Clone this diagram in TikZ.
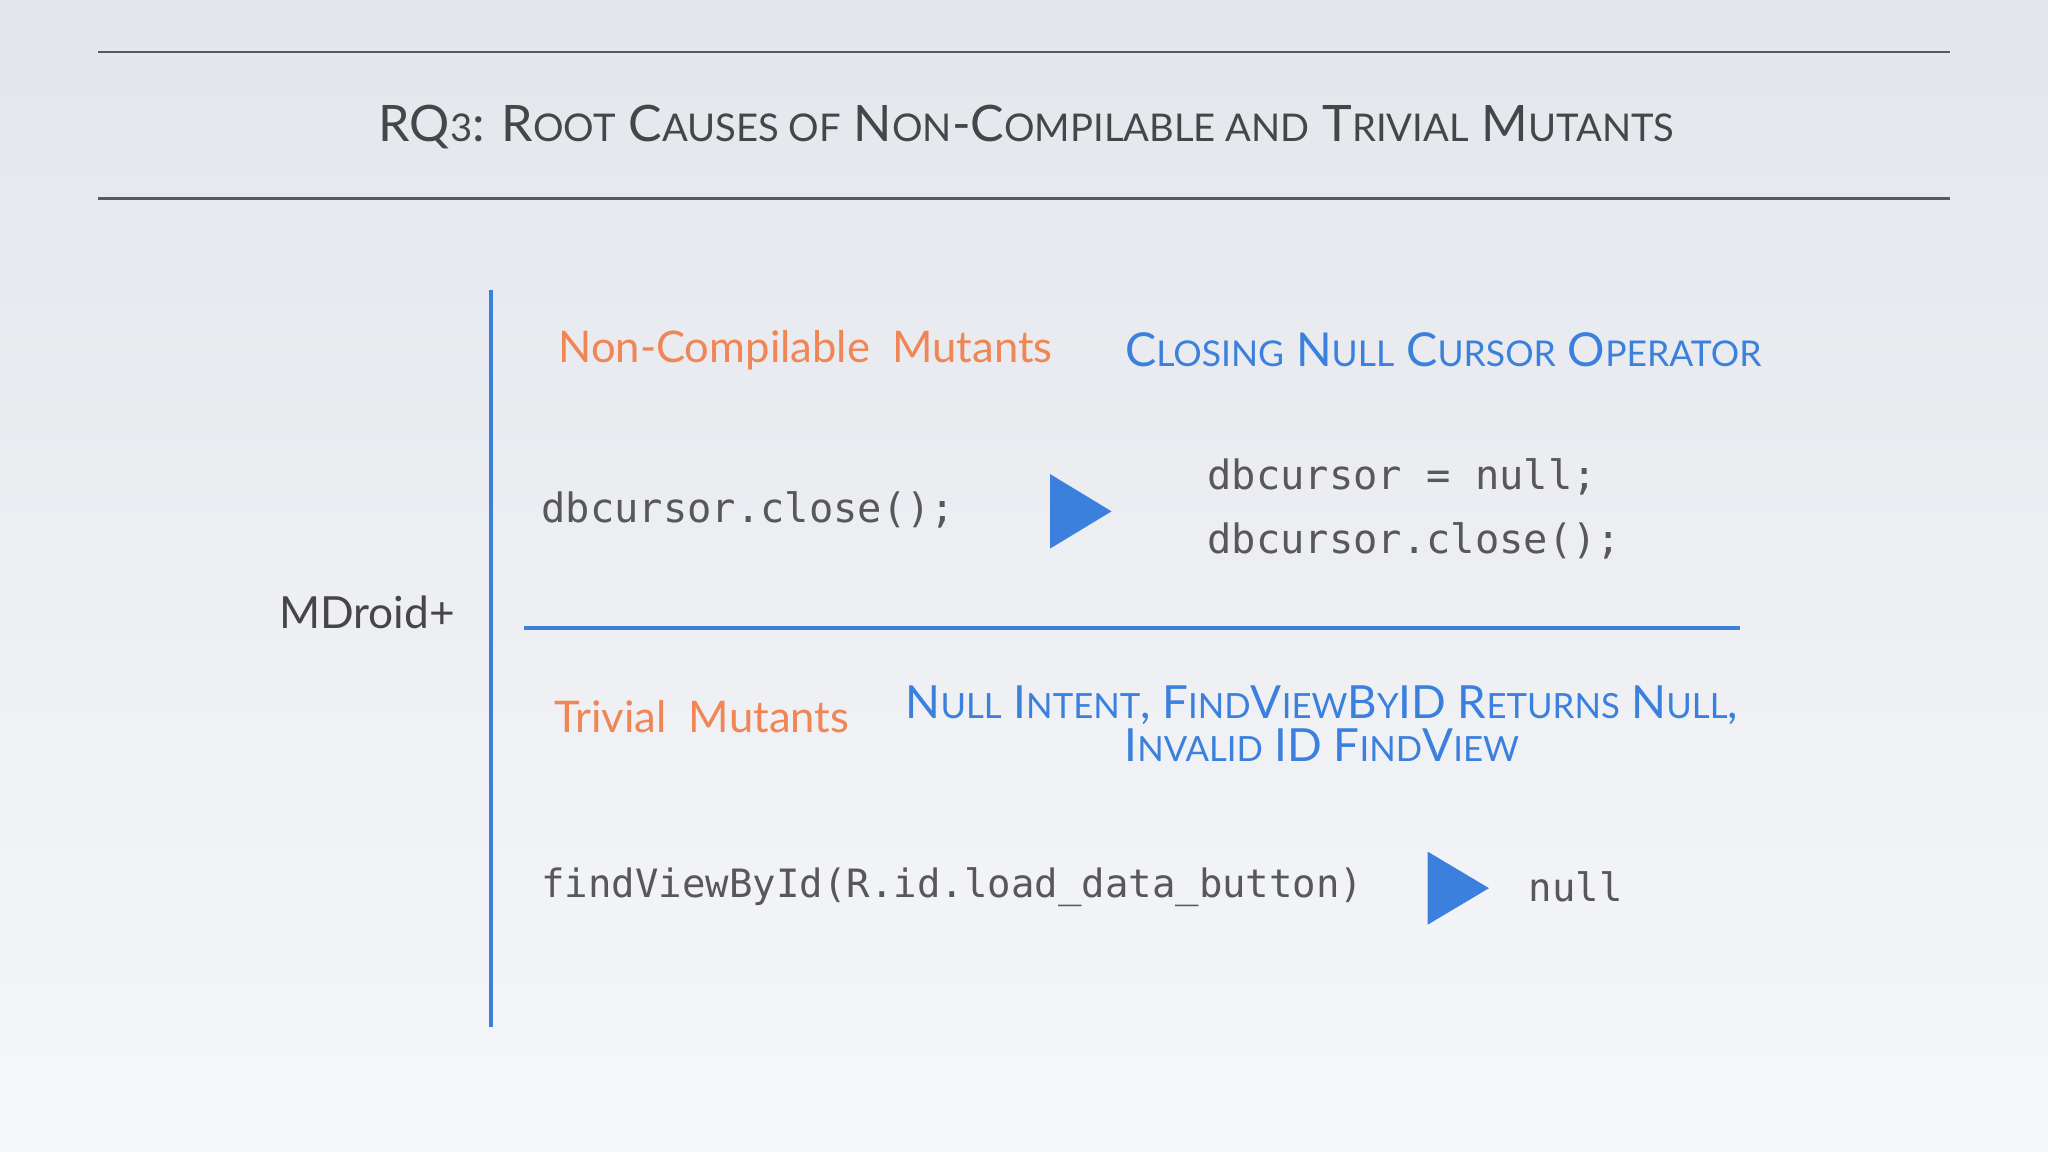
\documentclass[tikz,border=0pt]{standalone}
\usepackage{fontspec}
\setmainfont{Lato}
\setmonofont{DejaVu Sans Mono}
\usepackage{graphicx}
\definecolor{bluec}{RGB}{58,128,220}
\definecolor{orc}{RGB}{240,134,86}
\definecolor{grc}{RGB}{70,70,72}
\newcommand\ssc[1]{\scalebox{0.76}{\MakeUppercase{#1}}}
\tikzset{
  ttl/.style={text=grc,font=\fontsize{14.3}{16}\selectfont,inner sep=0pt},
  hdr/.style={text=orc,font=\fontsize{12.4}{15}\selectfont,inner sep=0pt,anchor=west},
  bhd/.style={text=bluec,font=\fontsize{13.3}{14}\selectfont,inner sep=0pt,align=center},
  code/.style={text=grc!90,font=\ttfamily\fontsize{11.5}{14}\selectfont,inner sep=0pt,anchor=west},
  tri/.style={fill=bluec,draw=none},
  bl/.style={draw=bluec,line width=1.2pt},
  gl/.style={draw=grc!90,line width=0.6pt}
}
\begin{document}
\begin{tikzpicture}[x=0.013061cm,y=-0.013061cm]
\shade[top color={rgb,255:red,227;green,230;blue,235},bottom color={rgb,255:red,246;green,247;blue,250}] (0,0) rectangle (1568,882);
\useasboundingbox (0,0) rectangle (1568,882);
\coordinate (l1a) at (75,40); \coordinate (l1b) at (1493,40);
\coordinate (l2a) at (75,152); \coordinate (l2b) at (1493,152);
\draw[gl] (l1a) -- (l1b);
\draw[gl] (l2a) -- (l2b);
\node[ttl] (title) at (786,97) {RQ\ssc{3}: R\ssc{oot} C\ssc{auses of} N\ssc{on}-C\ssc{ompilable and} T\ssc{rivial} M\ssc{utants}};
\coordinate (va) at (376,222); \coordinate (vb) at (376,786);
\draw[bl] (va) -- (vb);
\coordinate (ha) at (401,481); \coordinate (hb) at (1332,481);
\draw[bl] (ha) -- (hb);
\node[text=grc,font=\fontsize{12.6}{16}\selectfont,inner sep=0pt] (md) at (281,469) {MDroid+};
\node[hdr] (nc) at (427,268) {Non-Compilable\ \ Mutants};
\node[bhd] (cn) at (1105,268) {C\ssc{losing} N\ssc{ull} C\ssc{ursor} O\ssc{perator}};
\node[code] (c1) at (414,390) {dbcursor.close();};
\node[code] (c2) at (924,365) {dbcursor = null;};
\node[code] (c3) at (924,414) {dbcursor.close();};
\path[tri] (804,363) -- (851,391.5) -- (804,420) -- cycle;
\node[hdr] (tm) at (424,549) {Trivial\ \ Mutants};
\node[bhd,font=\fontsize{13}{14}\selectfont] (ni) at (1012,554) {N\ssc{ull} I\ssc{ntent}, F\ssc{ind}V\ssc{iew}B\ssc{y}ID R\ssc{eturns} N\ssc{ull},\\[-2pt] I\ssc{nvalid} ID F\ssc{ind}V\ssc{iew}};
\node[code,font=\ttfamily\fontsize{11.1}{14}\selectfont] (f1) at (414,679) {findViewById(R.id.load\_data\_button)};
\path[tri] (1093,652) -- (1140,680) -- (1093,708) -- cycle;
\node[code,font=\ttfamily\fontsize{11.1}{14}\selectfont] (nl) at (1170,679) {null};
\end{tikzpicture}
\end{document}
